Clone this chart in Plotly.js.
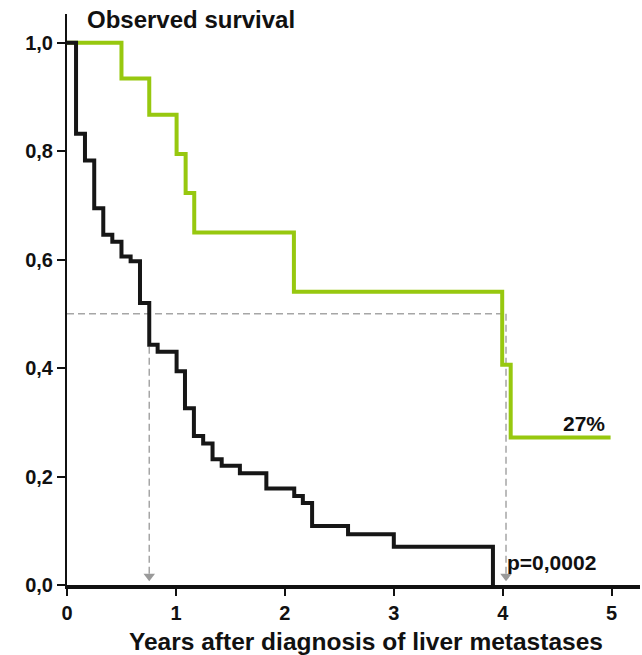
<!DOCTYPE html>
<html>
<head>
<meta charset="utf-8">
<script src="https://cdn.plot.ly/plotly-3.0.1.min.js"></script>
<style>html,body{margin:0;padding:0;background:#fff;}#chart{width:642px;height:655px;}</style>
</head>
<body>
<div id="chart"></div>
<script>
// Group A (black): years and survival
const blackYears = [0, 0.083, 0.165, 0.25, 0.333, 0.416, 0.50, 0.584, 0.67, 0.755, 0.832, 1.006, 1.083, 1.165, 1.25, 1.336, 1.42, 1.587, 1.83, 2.086, 2.165, 2.25, 2.58, 3.0, 3.91];
const blackSurv  = [1.0, 0.832, 0.783, 0.695, 0.646, 0.633, 0.606, 0.597, 0.520, 0.443, 0.430, 0.394, 0.326, 0.275, 0.261, 0.232, 0.220, 0.206, 0.178, 0.164, 0.151, 0.109, 0.0935, 0.0707, 0];
// Group B (green)
const greenYears = [0, 0.50, 0.755, 1.006, 1.089, 1.168, 2.083, 3.995, 4.073, 4.99];
const greenSurv  = [1.0, 0.934, 0.867, 0.795, 0.723, 0.650, 0.541, 0.406, 0.272, 0.272];
// median survival markers
const medianLevel = 0.5;
const medianYears = [0.755, 4.03];
// ticks
const xTickVals = [0, 1, 2, 3, 4, 5];
const xTickText = ["0", "1", "2", "3", "4", "5"];
const yTickVals = [0, 0.2, 0.4, 0.6, 0.8, 1.0];
const yTickText = ["0,0", "0,2", "0,4", "0,6", "0,8", "1,0"];

const gray = '#a6a6a6';
const green = '#97c80f';
const F = 'Liberation Sans, Arial, Helvetica, sans-serif';

const traces = [
  {x: [0, medianYears[1]], y: [medianLevel, medianLevel], mode: 'lines', line: {color: gray, width: 1.5, dash: '7px,4px'}, hoverinfo: 'skip'},
  {x: [medianYears[0], medianYears[0]], y: [medianLevel, 0.02], mode: 'lines', line: {color: gray, width: 1.5, dash: '7px,4px'}, hoverinfo: 'skip'},
  {x: [medianYears[1], medianYears[1]], y: [medianLevel, 0.02], mode: 'lines', line: {color: gray, width: 1.5, dash: '7px,4px'}, hoverinfo: 'skip'},
  {x: medianYears, y: [0.016, 0.016], mode: 'markers', marker: {symbol: 'triangle-down', size: 10, color: '#9a9a9a'}, cliponaxis: false, hoverinfo: 'skip'},
  {x: greenYears, y: greenSurv, mode: 'lines', line: {shape: 'hv', color: green, width: 4}, cliponaxis: false},
  {x: blackYears, y: blackSurv, mode: 'lines', line: {shape: 'hv', color: '#161616', width: 4}, cliponaxis: false}
];

const layout = {
  width: 642, height: 655,
  margin: {l: 67, r: 2, t: 14, b: 70},
  paper_bgcolor: '#fff', plot_bgcolor: '#fff',
  showlegend: false,
  xaxis: {
    range: [0, 5.26], tickvals: xTickVals, ticktext: xTickText,
    showgrid: false, zeroline: false, showline: true, linecolor: '#111', linewidth: 4,
    ticks: 'outside', ticklen: 7, tickwidth: 2, tickcolor: '#111',
    tickfont: {family: F, size: 20, color: '#111', weight: 'bold'}
  },
  yaxis: {
    range: [0, 1.053], tickvals: yTickVals, ticktext: yTickText,
    showgrid: false, zeroline: false, showline: true, linecolor: '#111', linewidth: 2,
    ticks: 'outside', ticklen: 8, tickwidth: 2, tickcolor: '#111',
    tickfont: {family: F, size: 20, color: '#111', weight: 'bold'}
  },
  annotations: [
    {text: 'Observed survival', xref: 'paper', yref: 'paper', x: 0.031, y: 0.9895, xanchor: 'left', yanchor: 'middle', showarrow: false,
     font: {family: F, size: 24, color: '#111', weight: 'bold'}},
    {text: 'Years after diagnosis of liver metastases', xref: 'paper', yref: 'paper', x: 0.522, y: -0.0998, xanchor: 'center', yanchor: 'middle', showarrow: false,
     font: {family: F, size: 24.5, color: '#111', weight: 'bold'}},
    {text: '27%', xref: 'x', yref: 'y', x: 4.954, y: 0.297, xanchor: 'right', yanchor: 'middle', showarrow: false,
     font: {family: F, size: 21, color: '#111', weight: 'bold'}},
    {text: 'p=0,0002', xref: 'x', yref: 'y', x: 4.018, y: 0.0424, xanchor: 'left', yanchor: 'middle', showarrow: false,
     font: {family: F, size: 21, color: '#111', weight: 'bold'}}
  ]
};

Plotly.newPlot('chart', traces, layout, {staticPlot: true, displayModeBar: false});
</script>
</body>
</html>
